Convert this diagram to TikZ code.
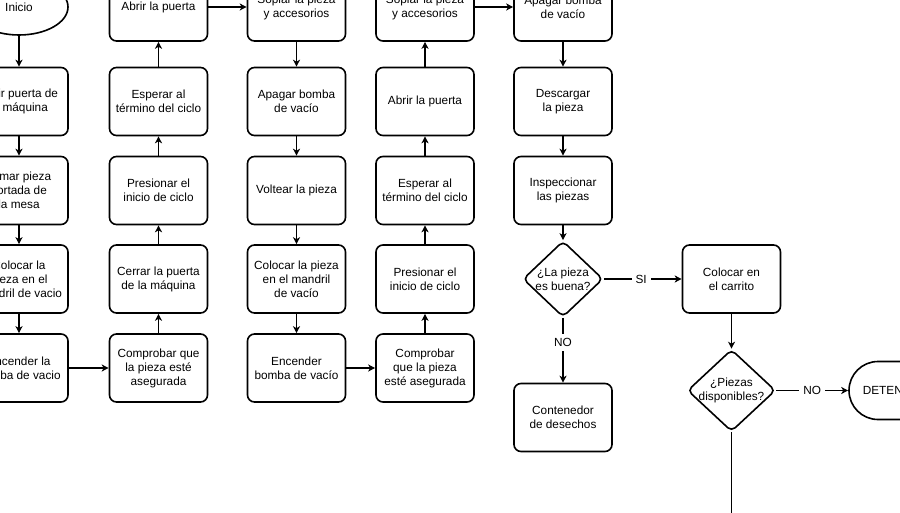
\documentclass[tikz,border=0pt]{standalone}
\usepackage{fontspec}
\setmainfont{Liberation Sans}
\usetikzlibrary{shapes.geometric,arrows.meta}
\begin{document}
\begin{tikzpicture}[x=1pt,y=-1pt,
  every node/.style={font=\fontsize{11.8}{14}\selectfont, align=center},
  proc/.style={draw, line width=1.6pt, rounded corners=7pt, minimum width=98pt, minimum height=68pt, inner sep=2pt},
  dec/.style={draw, diamond, line width=1.6pt, rounded corners=5pt, inner sep=0pt},
  term/.style={draw, line width=1.6pt, rounded corners=29pt, minimum width=84pt, minimum height=58pt},
  startnode/.style={draw, ellipse, line width=1.6pt, minimum width=98pt, minimum height=56pt},
  arr/.style={-{Stealth[length=7pt,width=7pt,inset=2pt]}, line width=1.1pt},
  lbl/.style={fill=white, inner sep=4pt}
]
\useasboundingbox (0,0) rectangle (900,513);
\fill[white] (0,0) rectangle (900,513);
\clip (0,0) rectangle (900,513);

% column 1
\node[startnode] (inicio) at (19,7) {Inicio};
\node[proc] (a2) at (19,101.5) {Abrir puerta de\\la máquina};
\node[proc] (a3) at (19,190.5) {Tomar pieza\\cortada de\\la mesa};
\node[proc] (a4) at (19,279) {Colocar la\\pieza en el\\mandril de vacio};
\node[proc] (a5) at (19,368) {Encender la\\bomba de vacio};

% column 2
\node[proc] (b1) at (158.5,7) {Abrir la puerta};
\node[proc] (b2) at (158.5,101.5) {Esperar al\\término del ciclo};
\node[proc] (b3) at (158.5,190.5) {Presionar el\\inicio de ciclo};
\node[proc] (b4) at (158.5,279) {Cerrar la puerta\\de la máquina};
\node[proc] (b5) at (158.5,368) {Comprobar que\\la pieza esté\\asegurada};

% column 3
\node[proc] (c1) at (296.5,7) {Soplar la pieza\\y accesorios};
\node[proc] (c2) at (296.5,101.5) {Apagar bomba\\de vacío};
\node[proc] (c3) at (296.5,190.5) {Voltear la pieza};
\node[proc] (c4) at (296.5,279) {Colocar la pieza\\en el mandril\\de vacío};
\node[proc] (c5) at (296.5,368) {Encender\\bomba de vacío};

% column 4
\node[proc] (d1) at (425,7) {Soplar la pieza\\y accesorios};
\node[proc] (d2) at (425,101.5) {Abrir la puerta};
\node[proc] (d3) at (425,190.5) {Esperar al\\término del ciclo};
\node[proc] (d4) at (425,279) {Presionar el\\inicio de ciclo};
\node[proc] (d5) at (425,368) {Comprobar\\que la pieza\\esté asegurada};

% column 5
\node[proc] (e1) at (563,7) {Apagar bomba\\de vacío};
\node[proc] (e2) at (563,101.5) {Descargar\\la pieza};
\node[proc] (e3) at (563,190.5) {Inspeccionar\\las piezas};
\node[dec, minimum width=80pt, minimum height=76pt,
      label={[align=center]center:¿La pieza\\es buena?}] (q1) at (563,279) {};
\node[proc] (e5) at (563,417.5) {Contenedor\\de desechos};

% column 6
\node[proc] (f1) at (731.5,279) {Colocar en\\el carrito};
\node[dec, minimum width=88pt, minimum height=82pt,
      label={[align=center]center:¿Piezas\\disponibles?}] (q2) at (731.5,390.5) {};
\node[term] (stop) at (891,390.5) {DETENER};
\coordinate (down) at (731.5,530);

% connectors
\draw[arr] (inicio) -- (a2);
\draw[arr] (a2) -- (a3);
\draw[arr] (a3) -- (a4);
\draw[arr] (a4) -- (a5);
\draw[arr] (a5) -- (b5);
\draw[arr] (b5) -- (b4);
\draw[arr] (b4) -- (b3);
\draw[arr] (b3) -- (b2);
\draw[arr] (b2) -- (b1);
\draw[arr] (b1) -- (c1);
\draw[arr] (c1) -- (c2);
\draw[arr] (c2) -- (c3);
\draw[arr] (c3) -- (c4);
\draw[arr] (c4) -- (c5);
\draw[arr] (c5) -- (d5);
\draw[arr] (d5) -- (d4);
\draw[arr] (d4) -- (d3);
\draw[arr] (d3) -- (d2);
\draw[arr] (d2) -- (d1);
\draw[arr] (d1) -- (e1);
\draw[arr] (e1) -- (e2);
\draw[arr] (e2) -- (e3);
\draw[arr] (e3) -- (q1);
\draw[arr] (q1) -- node[lbl, pos=0.48] {SI} (f1);
\draw[arr] (q1) -- node[lbl, pos=0.38] {NO} (e5);
\draw[arr] (f1) -- (q2);
\draw[arr] (q2) -- node[lbl, pos=0.5] {NO} (stop);
\draw[line width=1.1pt] (q2) -- (down);
\end{tikzpicture}
\end{document}
